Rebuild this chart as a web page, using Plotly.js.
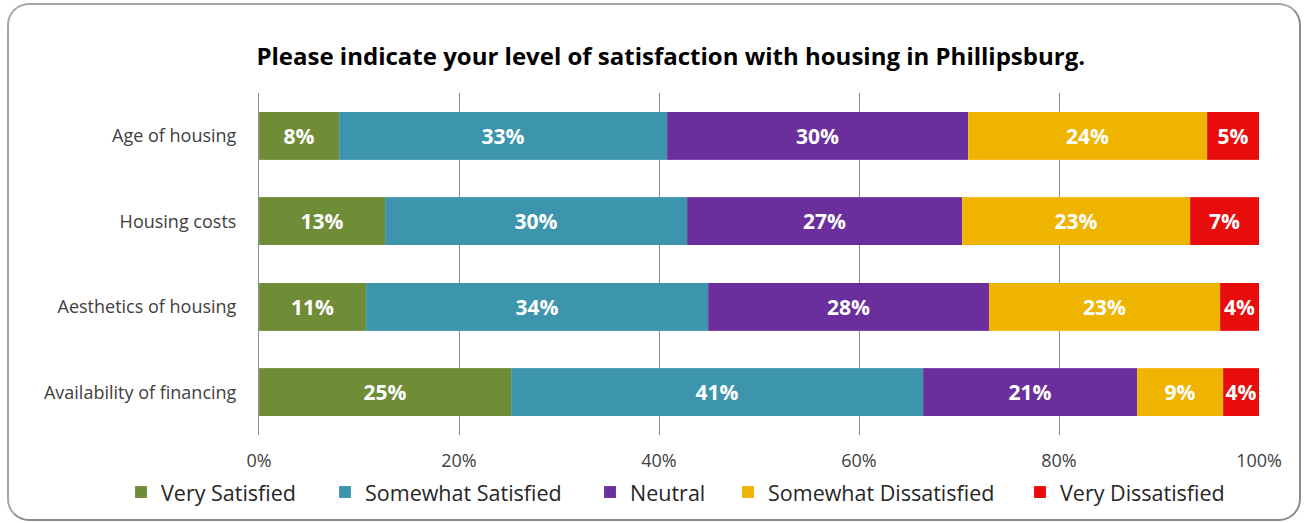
<!DOCTYPE html>
<html>
<head>
<meta charset="utf-8">
<script src="https://cdn.plot.ly/plotly-3.0.1.min.js"></script>
<style>
  html, body { margin: 0; padding: 0; background: #ffffff; }
  #wrap { position: relative; width: 1305px; height: 523px; }
  #chart { position: absolute; left: 0; top: 0; width: 1305px; height: 523px; }
  #frame { position: absolute; left: 7px; top: 3px; width: 1290px; height: 514px;
           border: 2px solid #a6a6a6; border-right-color: #8a8a8a; border-bottom-color: #8a8a8a;
           border-radius: 22px; pointer-events: none; }
</style>
</head>
<body>
<div id="wrap">
  <div id="chart"></div>
  <div id="frame"></div>
</div>
<script>
const categories = ["Age of housing", "Housing costs", "Aesthetics of housing", "Availability of financing"];
const seriesNames = ["Very Satisfied", "Somewhat Satisfied", "Neutral", "Somewhat Dissatisfied", "Very Dissatisfied"];

const verySatisfied        = [8.0, 12.6, 10.7, 25.2];
const somewhatSatisfied    = [32.8, 30.2, 34.2, 41.2];
const neutral              = [30.1, 27.5, 28.1, 21.4];
const somewhatDissatisfied = [23.9, 22.8, 23.1, 8.6];
const veryDissatisfied     = [5.2, 6.9, 3.9, 3.6];

const labelsVerySatisfied        = ["8%", "13%", "11%", "25%"];
const labelsSomewhatSatisfied    = ["33%", "30%", "34%", "41%"];
const labelsNeutral              = ["30%", "27%", "28%", "21%"];
const labelsSomewhatDissatisfied = ["24%", "23%", "23%", "9%"];
const labelsVeryDissatisfied     = ["5%", "7%", "4%", "4%"];

const tickVals = [0, 20, 40, 60, 80, 100];
const tickText = ["0%", "20%", "40%", "60%", "80%", "100%"];

const colors = ["#6f8c36", "#3c94ad", "#6a2f9c", "#efb400", "#e80c0c"];
const values = [verySatisfied, somewhatSatisfied, neutral, somewhatDissatisfied, veryDissatisfied];
const labels = [labelsVerySatisfied, labelsSomewhatSatisfied, labelsNeutral, labelsSomewhatDissatisfied, labelsVeryDissatisfied];

// where each legend entry's text starts in the reference (px from left)
const legendTextStart = [161, 365, 630, 768, 1060];

const FONT = "Open Sans, Lato, sans-serif";
const W = 1305;

const legendIds = ["legend", "legend2", "legend3", "legend4", "legend5"];

const traces = seriesNames.map((name, i) => ({
  type: "bar",
  orientation: "h",
  name: name,
  legend: legendIds[i],
  y: categories,
  x: values[i],
  text: labels[i],
  textposition: "inside",
  insidetextanchor: "middle",
  textangle: 0,
  constraintext: "none",
  textfont: { family: FONT, size: 21, color: "#ffffff", weight: "bold" },
  marker: { color: colors[i], line: { color: "rgba(255,255,255,0.25)", width: 0.5 } },
  hoverinfo: "name+x"
}));

const layout = {
  width: W,
  height: 523,
  barmode: "stack",
  bargap: 0.44,
  paper_bgcolor: "#ffffff",
  plot_bgcolor: "#ffffff",
  margin: { l: 259, r: 46, t: 93, b: 88, autoexpand: false },
  title: {
    text: "<b>Please indicate your level of satisfaction with housing in Phillipsburg.</b>",
    font: { family: FONT, size: 24, color: "#000000" },
    x: 0.514, xref: "container", xanchor: "center",
    y: 0.891, yref: "container", yanchor: "middle"
  },
  xaxis: {
    range: [0, 100],
    tickvals: tickVals,
    ticktext: tickText,
    showgrid: true,
    gridcolor: "#8c8c8c",
    gridwidth: 1,
    zeroline: false,
    showline: false,
    ticks: "",
    ticklabelstandoff: 13,
    tickfont: { family: FONT, size: 18, color: "#404040" },
    fixedrange: true
  },
  yaxis: {
    autorange: "reversed",
    showgrid: false,
    zeroline: false,
    showline: true,
    linecolor: "#8c8c8c",
    linewidth: 1,
    ticks: "",
    ticklabelstandoff: 18,
    tickfont: { family: FONT, size: 18, color: "#404040" },
    fixedrange: true
  },
  showlegend: true
};

legendIds.forEach((id, i) => {
  layout[id] = {
    orientation: "h",
    xref: "container",
    x: (legendTextStart[i] - 40) / W, xanchor: "left",
    yref: "container",
    y: 0.059, yanchor: "middle",
    font: { family: FONT, size: 21.5, color: "#262626" },
    itemwidth: 30,
    bgcolor: "rgba(0,0,0,0)"
  };
});

Plotly.newPlot("chart", traces, layout, { displayModeBar: false, staticPlot: true });
</script>
</body>
</html>
